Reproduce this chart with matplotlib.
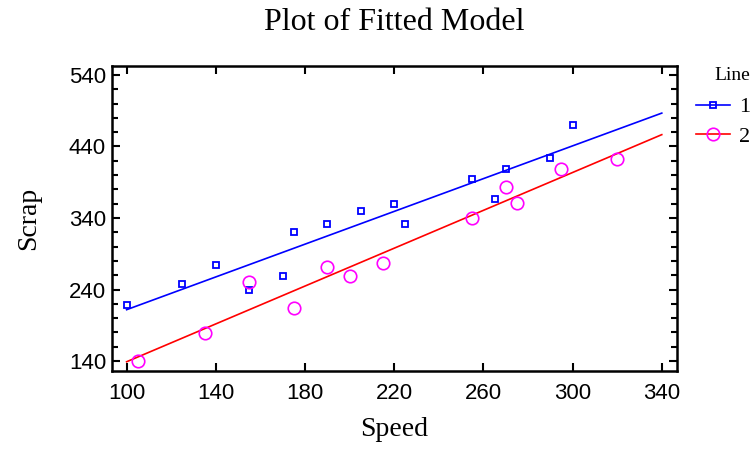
import numpy as np
import matplotlib
matplotlib.use("Agg")
import matplotlib.pyplot as plt
from matplotlib.lines import Line2D
from matplotlib.ticker import MultipleLocator

# Data
speed1 = [100, 125, 140, 155, 170, 175, 190, 205, 220, 225, 255, 265, 270, 290, 300]
scrap1 = [218, 248, 274, 239, 259, 320, 331, 350, 359, 331, 394, 366, 409, 424, 470]
speed2 = [105, 135, 155, 175, 190, 200, 215, 255, 270, 275, 295, 320]
scrap2 = [140, 179, 251, 214, 272, 259, 277, 340, 383, 361, 409, 422]
line_range = [100, 340]
xticks = [100, 140, 180, 220, 260, 300, 340]
yticks = [140, 240, 340, 440, 540]
legend_labels = ["1", "2"]

serif = "Liberation Serif"
sans = "Liberation Sans"

fig = plt.figure(figsize=(7.52, 4.49), dpi=100)
ax = fig.add_axes([0.1485, 0.1744, 0.8999 - 0.1485, 0.853 - 0.1744])

blue = "#0000ff"
red = "#ff0000"
mag = "#ff00ff"

xs = np.array(line_range, dtype=float)
c1 = np.polyfit(speed1, scrap1, 1)
c2 = np.polyfit(speed2, scrap2, 1)
ax.plot(xs, np.polyval(c1, xs), color=blue, lw=1.2, zorder=2)
ax.plot(xs, np.polyval(c2, xs), color=red, lw=1.2, zorder=2)
ax.plot(speed1, scrap1, ls="none", marker="s", ms=5, mfc="none", mec=blue, mew=1.3, zorder=3)
ax.plot(speed2, scrap2, ls="none", marker="o", ms=9, mfc="none", mec=mag, mew=1.2, zorder=3)

ax.set_xlim(93.3, 346.7)
ax.set_ylim(126.5, 552.5)
ax.set_xticks(xticks)
ax.set_yticks(yticks)
ax.yaxis.set_minor_locator(MultipleLocator(20))
ax.tick_params(which="both", direction="in", top=True, right=True, width=1.5)
ax.tick_params(which="major", length=6)
ax.tick_params(which="minor", length=4)
ax.tick_params(axis="both", labelsize=16)
ax.tick_params(axis="x", pad=9)
ax.tick_params(axis="y", pad=4)
for lab in ax.get_xticklabels() + ax.get_yticklabels():
    lab.set_fontfamily(sans)
for s in ax.spines.values():
    s.set_linewidth(1.8)

ax.set_xlabel("Speed", fontfamily=serif, fontsize=20, labelpad=9)
ax.set_ylabel("Scrap", fontfamily=serif, fontsize=20, labelpad=20)
fig.text((261.7 + 526.7) / 2 / 752, 1 - 22 / 449, "Plot of Fitted Model",
         ha="center", va="center", fontfamily=serif, fontsize=23)

handles = [
    Line2D([], [], color=blue, lw=1.2, marker="s", ms=5, mfc="none", mec=blue, mew=1.3),
    Line2D([], [], color=red, lw=1.2, marker="o", ms=9, mfc="none", mec=mag, mew=1.2),
]
leg = fig.legend(handles, legend_labels, title="Line", loc="upper right",
                 bbox_to_anchor=(1.0, 0.855), frameon=False,
                 prop={"family": serif, "size": 16}, handlelength=1.5,
                 handletextpad=0.4, labelspacing=0.4, borderaxespad=0,
                 borderpad=0.1)
leg.get_title().set_fontfamily(serif)
leg.get_title().set_fontsize(14)
leg._legend_box.align = "right"
leg._legend_box.sep = 9

fig.savefig("out.png", dpi=100)
